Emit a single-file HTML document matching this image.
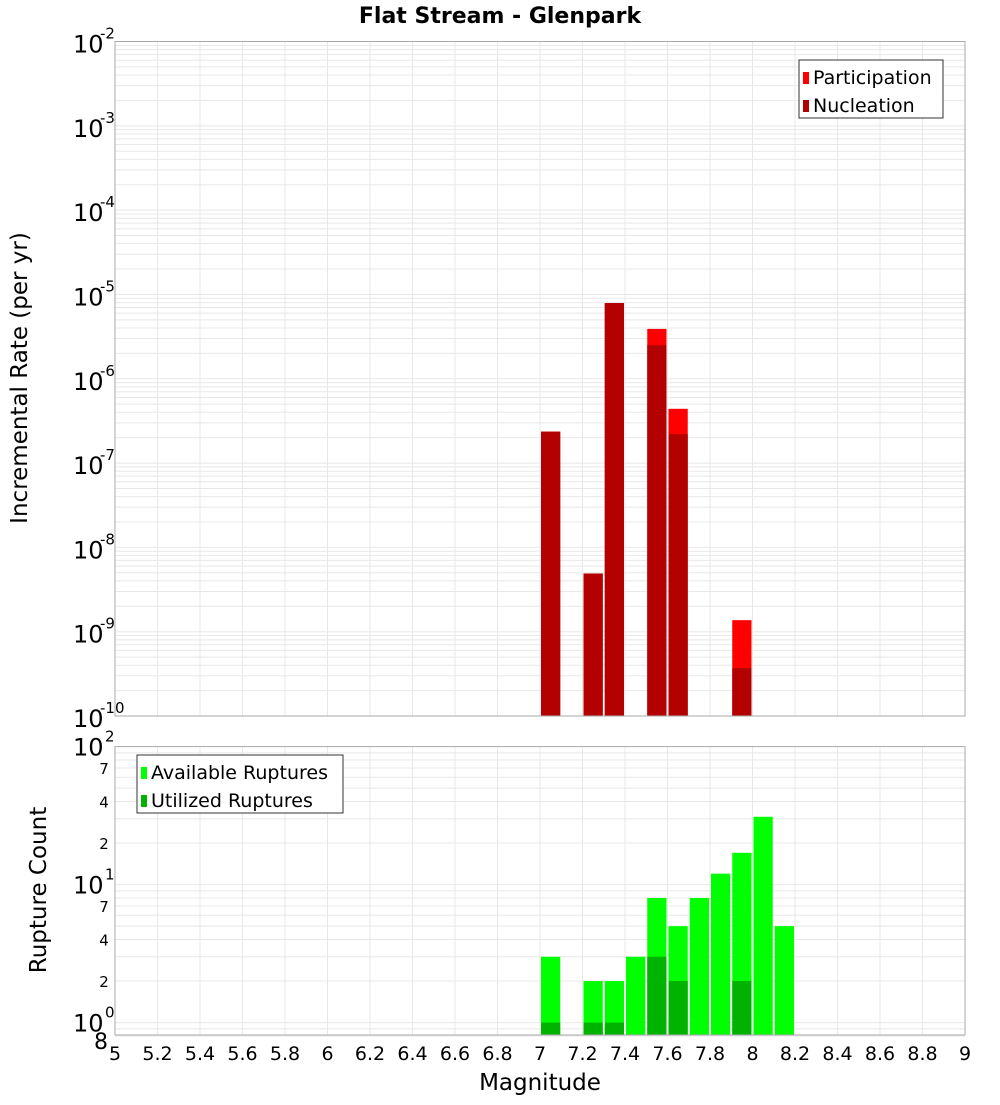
<!DOCTYPE html>
<html><head><meta charset="utf-8"><style>
body{margin:0;background:#fff;width:1000px;height:1100px;overflow:hidden}
svg text{font-family:"DejaVu Sans","Liberation Sans",sans-serif}
</style></head><body>
<svg id="chart" width="1000" height="1100" xmlns="http://www.w3.org/2000/svg">
<text x="500" y="23" text-anchor="middle" font-size="22" font-weight="bold">Flat Stream - Glenpark</text>
<text transform="translate(27,378) rotate(-90)" text-anchor="middle" font-size="23">Incremental Rate (per yr)</text>
<text transform="translate(46,890) rotate(-90)" text-anchor="middle" font-size="23">Rupture Count</text>
<text x="540" y="1090" text-anchor="middle" font-size="23">Magnitude</text>
<g id="gtop"></g><g id="gbot"></g><g id="gxt"></g>
</svg>
<script>
const mags=[7.05,7.25,7.35,7.55,7.65,7.95];
const participation=[2.36e-7,4.9e-9,7.9e-6,3.9e-6,4.4e-7,1.37e-9];
const nucleation=[2.36e-7,4.9e-9,7.9e-6,2.5e-6,2.2e-7,3.7e-10];
const countMags=[7.05,7.25,7.35,7.45,7.55,7.65,7.75,7.85,7.95,8.05,8.15];
const available=[3,2,2,3,8,5,8,12,17,31,5];
const utilizedMags=[7.05,7.25,7.35,7.55,7.65,7.95];
const utilized=[1,1,1,3,2,2];
const xTicks=["5","5.2","5.4","5.6","5.8","6","6.2","6.4","6.6","6.8","7","7.2","7.4","7.6","7.8","8","8.2","8.4","8.6","8.8","9"];
const topExps=[-2,-3,-4,-5,-6,-7,-8,-9,-10];
const NS="http://www.w3.org/2000/svg";
const X0=115,X1=965;
const xs=m=>X0+(m-5)/4*(X1-X0);
const T0=41.5,T1=716,B0=746.6,B1=1035;
const ty=v=>T0+(-2-Math.log10(v))/8*(T1-T0);
const by=v=>B0+(2-Math.log10(v))*138;
function el(p,tag,a){const e=document.createElementNS(NS,tag);for(const k in a)e.setAttribute(k,a[k]);p.appendChild(e);return e;}
const gTop=document.getElementById('gtop'),gBot=document.getElementById('gbot'),gXt=document.getElementById('gxt');
function panel(g,y0,y1,name){
 const bg=el(g,'rect',{x:X0,y:y0,width:X1-X0,height:y1-y0,fill:'#fff'});
 
 
 xTicks.forEach(t=>{const x=xs(+t);el(g,'line',{x1:x,x2:x,y1:y0,y2:y1,stroke:'#e8e8e8'});});
}
panel(gTop,T0,T1,'top');
for(let e=-10;e<-2;e++)for(let k=1;k<10;k++){const y=ty(k*Math.pow(10,e));el(gTop,'line',{x1:X0,x2:X1,y1:y,y2:y,stroke:'#e8e8e8'});}
panel(gBot,B0,B1,'bottom');
[0.8,0.9,1,2,3,4,5,6,7,8,9,10,20,30,40,50,60,70,80,90].forEach(v=>{const y=by(v);el(gBot,'line',{x1:X0,x2:X1,y1:y,y2:y,stroke:'#e8e8e8'});});
const bw=(X1-X0)/40;
mags.forEach((m,i)=>{
 const x=xs(m)-bw/2+1;
 let r=el(gTop,'rect',{x:x,y:ty(participation[i]),width:bw-2,height:T1-ty(participation[i]),fill:'#ff0000'});
 
 
 r=el(gTop,'rect',{x:x,y:ty(nucleation[i]),width:bw-2,height:T1-ty(nucleation[i]),fill:'#b30000'});
 
 
});
countMags.forEach((m,i)=>{
 const x=xs(m)-bw/2+1;
 const r=el(gBot,'rect',{x:x,y:by(available[i]),width:bw-2,height:B1-by(available[i]),fill:'#00ff00'});
 
 
});
utilizedMags.forEach((m,i)=>{
 const x=xs(m)-bw/2+1;
 const r=el(gBot,'rect',{x:x,y:by(utilized[i]),width:bw-2,height:B1-by(utilized[i]),fill:'#00b300'});
 
 
});
el(gTop,'rect',{x:X0,y:T0,width:X1-X0,height:T1-T0,fill:'none',stroke:'#aaa'});
el(gBot,'rect',{x:X0,y:B0,width:X1-X0,height:B1-B0,fill:'none',stroke:'#aaa'});
topExps.forEach(e=>{
 const y=ty(Math.pow(10,e));
 const t=el(gTop,'text',{x:73,y:y+11,'font-size':24});
 
 
 t.textContent='10';
 const s=el(gTop,'text',{x:100,y:y-3,'font-size':15});
 s.textContent=String(e);
});
[[2,'2'],[1,'1'],[0,'0']].forEach(([e,s])=>{
 const y=by(Math.pow(10,e));
 const t=el(gBot,'text',{x:73,y:y+9,'font-size':24});
 
 
 t.textContent='10';
 el(gBot,'text',{x:105,y:y-5,'font-size':15}).textContent=s;
});
[[7,'7'],[4,'4'],[2,'2'],[70,'7'],[40,'4'],[20,'2'],[0.8,'8']].forEach(([v,s])=>{
 const y=by(v);
 const big=v===0.8;
 const t=el(gBot,'text',{x:big?101:104,y:y+(big?13:6),'font-size':big?22:15,'text-anchor':'middle'});
 
 
 t.textContent=s;
});
xTicks.forEach(s=>{
 const t=el(gXt,'text',{x:xs(+s),y:1060,'font-size':19,'text-anchor':'middle'});
 
 
 t.textContent=s;
});
function legend(g,x,y,w,items,name){
 const L=el(g,'g',{});
 
 
 el(L,'rect',{x:x,y:y,width:w,height:58,fill:'#fff',stroke:'#333'});
 items.forEach(([c,lab],i)=>{
  el(L,'rect',{x:x+4,y:y+12+i*28,width:6,height:12,fill:c});
  el(L,'text',{x:x+14,y:y+24+i*28,'font-size':19}).textContent=lab;
 });
}
legend(gTop,799,60,144,[['#ff0000','Participation'],['#b30000','Nucleation']],'top-legend');
legend(gBot,137,755,206,[['#00ff00','Available Ruptures'],['#00b300','Utilized Ruptures']],'bottom-legend');
</script>
</body></html>
